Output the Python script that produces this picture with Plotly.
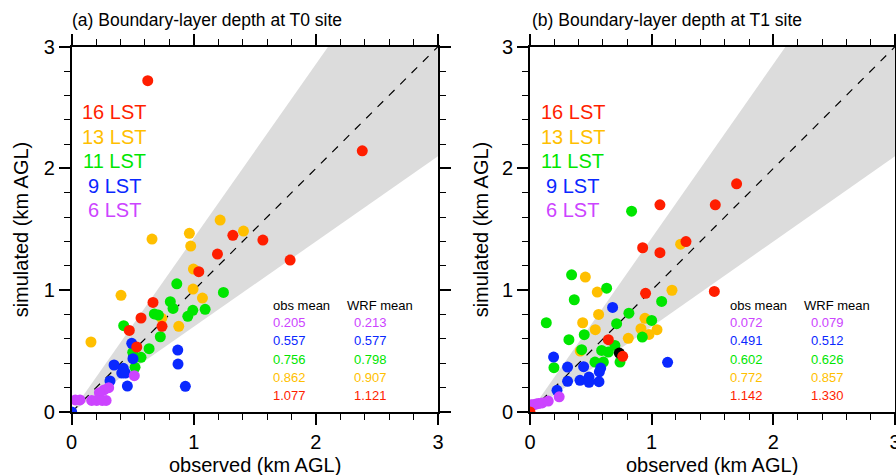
import plotly.graph_objects as go

# ---------------- data ----------------
hours = ["16 LST", "13 LST", "11 LST", "9 LST", "6 LST"]
hour_colors = ["#ff1e00", "#ffbf00", "#00e600", "#0a28ff", "#cc44ff"]

# Panel (a) T0 site
t0_16_obs = [0.623, 2.380, 1.320, 1.566, 1.194, 1.789, 1.041, 0.666, 0.568, 0.740, 0.472, 0.533]
t0_16_sim = [2.721, 2.145, 1.451, 1.412, 1.297, 1.248, 1.152, 0.900, 0.772, 0.704, 0.670, 0.534]
t0_13_obs = [1.216, 1.407, 0.964, 0.975, 0.658, 0.997, 0.994, 1.071, 0.404, 0.877, 0.738, 0.158]
t0_13_sim = [1.576, 1.486, 1.467, 1.363, 1.420, 1.174, 1.010, 0.936, 0.958, 0.704, 0.769, 0.575]
t0_11_obs = [0.861, 1.243, 0.808, 0.830, 0.992, 1.093, 0.951, 0.677, 0.710, 0.426, 0.726, 0.634, 0.568, 0.519, 0.500]
t0_11_sim = [1.053, 0.982, 0.906, 0.851, 0.835, 0.843, 0.786, 0.805, 0.796, 0.709, 0.618, 0.520, 0.449, 0.367, 0.490]
t0_09_obs = [0.492, 0.502, 0.347, 0.423, 0.410, 0.440, 0.314, 0.456, 0.869, 0.871, 0.931, 0.0]
t0_09_sim = [0.564, 0.438, 0.386, 0.359, 0.320, 0.320, 0.255, 0.213, 0.509, 0.394, 0.211, 0.0]
t0_06_obs = [0.513, 0.303, 0.265, 0.227, 0.030, 0.068, 0.164, 0.205, 0.250, 0.282]
t0_06_sim = [0.298, 0.200, 0.181, 0.159, 0.099, 0.099, 0.095, 0.095, 0.095, 0.095]

# Panel (b) T1 site
t1_16_obs = [1.698, 1.068, 1.523, 0.926, 1.068, 1.282, 1.515, 0.950, 0.644, 0.762, 0.0]
t1_16_sim = [1.874, 1.701, 1.701, 1.349, 1.308, 1.400, 0.990, 0.975, 0.594, 0.457, 0.0]
t1_13_obs = [0.455, 0.553, 1.238, 1.167, 0.564, 0.433, 0.945, 0.537, 0.912, 0.978, 1.044, 0.808, 0.413]
t1_13_sim = [1.108, 0.985, 1.378, 1.000, 0.801, 0.733, 0.769, 0.676, 0.684, 0.637, 0.676, 0.605, 0.501]
t1_11_obs = [0.589, 0.644, 0.698, 0.712, 0.740, 0.534, 0.603, 0.813, 1.000, 0.923, 0.446, 0.425,
             0.320, 0.197, 0.134, 0.342, 0.364, 0.630, 0.835, 1.082]
t1_11_sim = [0.506, 0.492, 0.547, 0.725, 0.410, 0.410, 0.410, 0.812, 0.752, 0.615, 0.635, 0.512,
             0.594, 0.364, 0.733, 1.127, 0.922, 1.017, 1.649, 0.908]
t1_09_obs = [0.679, 0.194, 0.309, 0.441, 0.581, 0.570, 1.131, 0.309, 0.411, 0.485, 0.485, 0.567, 0.222]
t1_09_sim = [0.859, 0.451, 0.369, 0.372, 0.361, 0.330, 0.408, 0.252, 0.260, 0.287, 0.244, 0.249, 0.178]
t1_06_obs = [0.010, 0.030, 0.050, 0.070, 0.100, 0.150, 0.240, 0.020]
t1_06_sim = [0.060, 0.060, 0.065, 0.070, 0.075, 0.090, 0.125, 0.055]
t1_other_obs = [0.734]
t1_other_sim = [0.484]

# mean statistics (order: 6, 9, 11, 13, 16 LST)
stat_colors = ["#cc44ff", "#0a28ff", "#00e600", "#ffbf00", "#ff1e00"]
t0_obs_mean = ["0.205", "0.557", "0.756", "0.862", "1.077"]
t0_wrf_mean = ["0.213", "0.577", "0.798", "0.907", "1.121"]
t1_obs_mean = ["0.072", "0.491", "0.602", "0.772", "1.142"]
t1_wrf_mean = ["0.079", "0.512", "0.626", "0.857", "1.330"]

titles = ["(a) Boundary-layer depth at T0 site", "(b) Boundary-layer depth at T1 site"]
tick_vals = [0, 1, 2, 3]
axis_max = 3.0
band_ratio = 0.7

FONT = "Liberation Sans, Arial, Helvetica, sans-serif"

fig = go.Figure()

panels = [
    dict(xa="x", ya="y",
         series=[(t0_13_obs, t0_13_sim, hour_colors[1]), (t0_11_obs, t0_11_sim, hour_colors[2]),
                 (t0_09_obs, t0_09_sim, hour_colors[3]), (t0_06_obs, t0_06_sim, hour_colors[4]),
                 (t0_16_obs, t0_16_sim, hour_colors[0])],
         obs=t0_obs_mean, wrf=t0_wrf_mean),
    dict(xa="x2", ya="y2",
         series=[(t1_13_obs, t1_13_sim, hour_colors[1]), (t1_11_obs, t1_11_sim, hour_colors[2]),
                 (t1_09_obs, t1_09_sim, hour_colors[3]), (t1_06_obs, t1_06_sim, hour_colors[4]),
                 (t1_other_obs, t1_other_sim, "#000000"),
                 (t1_16_obs, t1_16_sim, hour_colors[0])],
         obs=t1_obs_mean, wrf=t1_wrf_mean),
]

annotations = []
for p in panels:
    # shaded band between y = 0.7x and y = x/0.7
    bx = [0, axis_max, axis_max, axis_max * band_ratio, 0]
    by = [0, axis_max * band_ratio, axis_max, axis_max, 0]
    fig.add_trace(go.Scatter(x=bx, y=by, mode="lines", fill="toself", fillcolor="#dcdcdc",
                             line=dict(width=0), hoverinfo="skip", showlegend=False,
                             xaxis=p["xa"], yaxis=p["ya"]))
    # 1:1 line
    fig.add_trace(go.Scatter(x=[0, axis_max], y=[0, axis_max], mode="lines",
                             line=dict(color="black", width=1.2, dash="8px,8px"),
                             hoverinfo="skip", showlegend=False, xaxis=p["xa"], yaxis=p["ya"]))
    for ox, sy, col in p["series"]:
        fig.add_trace(go.Scatter(x=ox, y=sy, mode="markers",
                                 marker=dict(size=11, color=col, line=dict(width=0)),
                                 showlegend=False, xaxis=p["xa"], yaxis=p["ya"]))
    # hour labels
    for i, (h, c) in enumerate(zip(hours, hour_colors)):
        annotations.append(dict(x=0.35, y=2.46 - 0.2 * i, xref=p["xa"], yref=p["ya"], text=h,
                                showarrow=False, xanchor="center", yanchor="middle",
                                font=dict(family=FONT, size=20, color=c)))
    # statistics
    annotations.append(dict(x=1.63, y=0.878, xref=p["xa"], yref=p["ya"], text="obs mean",
                            showarrow=False, xanchor="left", yanchor="middle",
                            font=dict(family=FONT, size=13, color="black")))
    annotations.append(dict(x=2.235, y=0.878, xref=p["xa"], yref=p["ya"], text="WRF mean",
                            showarrow=False, xanchor="left", yanchor="middle",
                            font=dict(family=FONT, size=13, color="black")))
    for i, (o, w, c) in enumerate(zip(p["obs"], p["wrf"], stat_colors)):
        yy = 0.733 - 0.1495 * i
        annotations.append(dict(x=1.63, y=yy, xref=p["xa"], yref=p["ya"], text=o,
                                showarrow=False, xanchor="left", yanchor="middle",
                                font=dict(family=FONT, size=13, color=c)))
        annotations.append(dict(x=2.597, y=yy, xref=p["xa"], yref=p["ya"], text=w,
                                showarrow=False, xanchor="right", yanchor="middle",
                                font=dict(family=FONT, size=13, color=c)))

# titles and axis titles
x_domains = [[0.0800, 0.4888], [0.5915, 0.9989]]
y_domain = [0.1326, 0.9017]
title_x = [70 / 896, 530 / 896]
ytitle_x = [21 / 896, 481 / 896]
for i in range(2):
    annotations.append(dict(x=title_x[i], y=1 - 20 / 475, xref="paper", yref="paper",
                            text=titles[i], showarrow=False, xanchor="left", yanchor="middle",
                            font=dict(family=FONT, size=17.5, color="black")))
    annotations.append(dict(x=sum(x_domains[i]) / 2, y=(475 - 465) / 475, xref="paper", yref="paper",
                            text="observed (km AGL)", showarrow=False, xanchor="center",
                            yanchor="middle", font=dict(family=FONT, size=20, color="black")))
    annotations.append(dict(x=ytitle_x[i], y=sum(y_domain) / 2, xref="paper", yref="paper",
                            text="simulated (km AGL)", showarrow=False, textangle=-90,
                            xanchor="center", yanchor="middle",
                            font=dict(family=FONT, size=20, color="black")))

axis_common = dict(range=[0, axis_max], tickvals=tick_vals, ticks="outside", ticklen=11,
                   tickwidth=1.5, tickcolor="black", showline=True, linewidth=1.5,
                   linecolor="black", mirror="ticks", showgrid=False, zeroline=False,
                   automargin=False, ticklabeloverflow="allow",
                   tickfont=dict(family=FONT, size=20, color="black"),
                   minor=dict(dtick=0.2, ticks="outside", ticklen=6, tickwidth=1.2,
                              tickcolor="black", showgrid=False))

fig.update_layout(
    width=896, height=475, margin=dict(l=0, r=0, t=0, b=0),
    paper_bgcolor="white", plot_bgcolor="white", showlegend=False,
    font=dict(family=FONT),
    xaxis=dict(domain=x_domains[0], anchor="y", **axis_common),
    yaxis=dict(domain=y_domain, anchor="x", **axis_common),
    xaxis2=dict(domain=x_domains[1], anchor="y2", **axis_common),
    yaxis2=dict(domain=y_domain, anchor="x2", **axis_common),
    annotations=annotations,
)

fig.write_html("out.html")
